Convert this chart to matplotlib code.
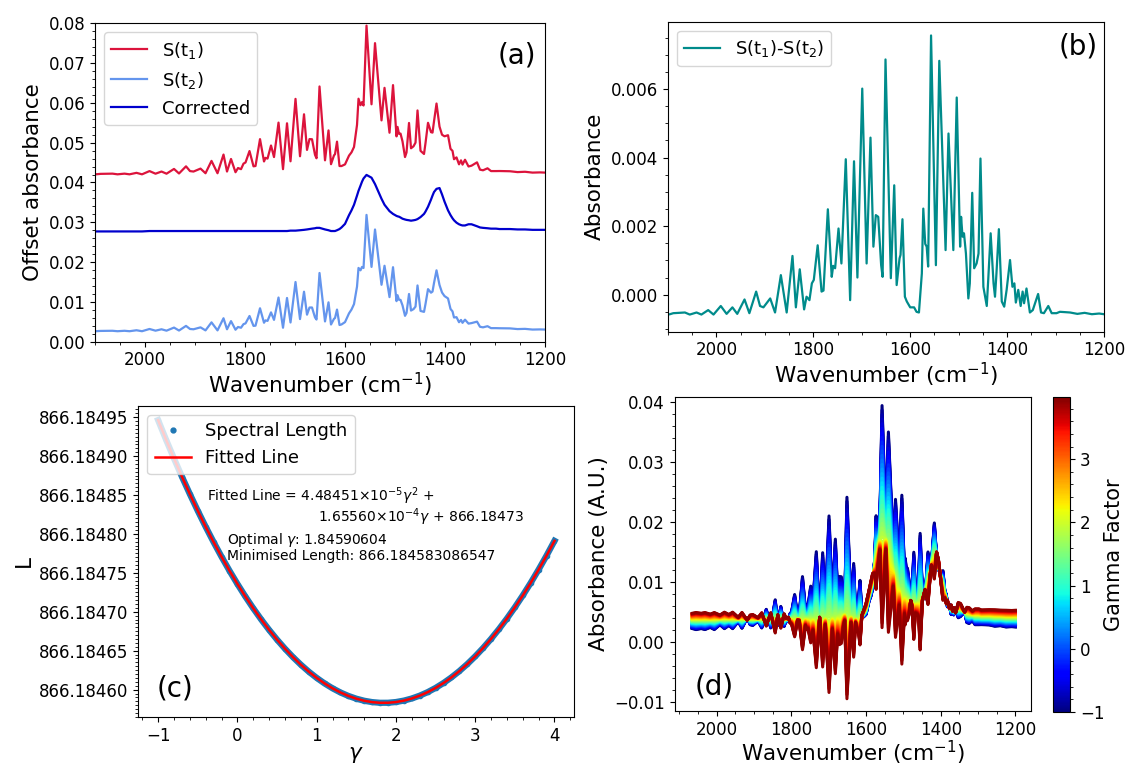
import matplotlib
matplotlib.use('Agg')
import matplotlib.pyplot as plt
import numpy as np
from matplotlib.ticker import MultipleLocator, AutoMinorLocator, FormatStrFormatter
from matplotlib.lines import Line2D
from matplotlib.colors import Normalize
from matplotlib.cm import ScalarMappable

# wavenumber grid (cm^-1), shared by all the spectra
wavenumber = [2100, 2096, 2089, 2065, 2055, 2041, 2031, 2017, 2006, 1991,
              1979, 1967, 1957, 1942, 1932, 1918, 1910, 1903, 1889, 1879,
              1867, 1855, 1843, 1836, 1828, 1819, 1814, 1808, 1803, 1799,
              1791, 1783, 1779, 1770, 1762, 1759, 1755, 1748, 1742, 1733,
              1724, 1716, 1709, 1699, 1690, 1682, 1676, 1671, 1666, 1660,
              1657, 1651, 1640, 1633, 1628, 1622, 1620, 1616, 1611, 1607,
              1600, 1592, 1587, 1582, 1576, 1573, 1569, 1566, 1563, 1557,
              1547, 1540, 1527, 1521, 1511, 1504, 1497, 1495, 1492, 1489,
              1485, 1480, 1477, 1472, 1468, 1463, 1459, 1455, 1449, 1442,
              1439, 1434, 1428, 1425, 1422, 1417, 1411, 1406, 1401, 1394,
              1389, 1385, 1382, 1377, 1372, 1368, 1365, 1360, 1353, 1347,
              1336, 1330, 1324, 1315, 1308, 1298, 1291, 1280, 1270, 1255,
              1240, 1225, 1210, 1200]

# S(t1)-S(t2), panel (b)
diff = [-0.00058, -0.00057, -0.00054, -0.00052, -0.00058, -0.00052, -0.00058, -0.00045, -0.00058, -0.00033,
        -0.00056, -0.00037, -0.00056, -0.00014, -0.00054, 0.00009, -0.00033, -0.00037, -0.00011, -0.00052,
        0.00057, -0.00052, 0.00113, -0.00037, 0.00074, -0.00043, -0.00006, -0.00016, 0.00033, 0.00043,
        0.00144, 0.00009, 0.00012, 0.00249, 0.00052, 0.00084, 0.00077, 0.00193, 0.00091, 0.00395,
        -0.00016, 0.00389, 0.00050, 0.00601, 0.00091, 0.00458, 0.00140, 0.00232, 0.00227, 0.00086,
        0.00052, 0.00686, 0.00048, 0.00319, 0.00028, 0.00106, 0.00116, 0.00220, -0.00006, -0.00020,
        -0.00037, -0.00037, -0.00050, -0.00052, 0.00062, 0.00251, 0.00148, 0.00140, 0.00082, 0.00756,
        0.00086, 0.00682, 0.00130, 0.00470, 0.00130, 0.00575, 0.00140, 0.00227, 0.00169, 0.00179,
        0.00120, -0.00011, 0.00033, 0.00297, 0.00077, 0.00091, 0.00120, 0.00397, 0.00023, -0.00033,
        0.00043, 0.00179, 0.00033, -0.00006, 0.00062, 0.00191, -0.00020, -0.00035, 0.00014, 0.00101,
        0.00023, 0.00033, -0.00023, 0.00014, -0.00033, 0.00009, -0.00025, 0.00018, -0.00052, -0.00045,
        0.00002, -0.00052, -0.00054, -0.00033, -0.00054, -0.00054, -0.00050, -0.00051, -0.00052, -0.00056,
        -0.00053, -0.00057, -0.00055, -0.00057]

# corrected spectrum (no offset), panels (a) and (d)
corrected = [0.0037, 0.0037, 0.0037, 0.0037, 0.0037, 0.0037, 0.0037, 0.0037, 0.0037, 0.0038,
             0.0038, 0.0038, 0.0038, 0.0038, 0.0038, 0.0038, 0.0038, 0.0038, 0.0038, 0.0038,
             0.0038, 0.0038, 0.0038, 0.0038, 0.0038, 0.0038, 0.0038, 0.0038, 0.0038, 0.0038,
             0.0038, 0.0038, 0.0038, 0.0038, 0.0038, 0.0038, 0.0038, 0.0038, 0.0038, 0.0038,
             0.0038, 0.0038, 0.0039, 0.0039, 0.0040, 0.0041, 0.0042, 0.0043, 0.0044, 0.0045,
             0.0046, 0.0046, 0.0042, 0.0040, 0.0038, 0.0038, 0.0038, 0.0040, 0.0043, 0.0047,
             0.0056, 0.0078, 0.0090, 0.0104, 0.0127, 0.0139, 0.0152, 0.0162, 0.0170, 0.0179,
             0.0172, 0.0156, 0.0119, 0.0104, 0.0088, 0.0081, 0.0076, 0.0075, 0.0074, 0.0072,
             0.0069, 0.0067, 0.0066, 0.0065, 0.0064, 0.0065, 0.0066, 0.0068, 0.0073, 0.0081,
             0.0087, 0.0099, 0.0117, 0.0127, 0.0136, 0.0144, 0.0146, 0.0130, 0.0112, 0.0090,
             0.0078, 0.0070, 0.0065, 0.0059, 0.0055, 0.0053, 0.0052, 0.0052, 0.0055, 0.0055,
             0.0050, 0.0047, 0.0046, 0.0045, 0.0044, 0.0044, 0.0043, 0.0043, 0.0043, 0.0042,
             0.0042, 0.0041, 0.0041, 0.0041]

gamma_opt = 1.84590604
offset_t1 = 0.040      # vertical offsets used in panel (a)
offset_corr = 0.024

# panel (c): gamma sweep and spectral length (866.1845 + value*1e-5)
gamma = np.round(np.arange(-1.0, 4.05, 0.1), 1)
length_1e5 = [44.620, 42.113, 39.696, 37.367, 35.128, 32.979, 30.920, 28.950, 27.071, 25.281,
              23.580, 21.970, 20.448, 19.017, 17.675, 16.423, 15.261, 14.188, 13.206, 12.312,
              11.509, 10.795, 10.171, 9.636, 9.192, 8.837, 8.571, 8.395, 8.309, 8.313,
              8.406, 8.590, 8.862, 9.225, 9.677, 10.219, 10.850, 11.571, 12.382, 13.283,
              14.273, 15.353, 16.523, 17.782, 19.131, 20.570, 22.098, 23.716, 25.424, 27.221,
              29.109]

plt.rcParams['font.size'] = 12

wn = np.array(wavenumber, dtype=float)
D = np.array(diff)
C = np.array(corrected)
s_t2 = C + gamma_opt * D
s_t1 = s_t2 + D

fig = plt.figure(figsize=(11.27, 7.68), dpi=100)
ax_a = fig.add_axes([0.0843, 0.5551, 0.3993, 0.4146])
ax_b = fig.add_axes([0.5927, 0.5681, 0.3869, 0.4036])
ax_c = fig.add_axes([0.1227, 0.0665, 0.3869, 0.4049])
ax_d = fig.add_axes([0.5987, 0.0737, 0.3162, 0.4098])
cax = fig.add_axes([0.9341, 0.0730, 0.0154, 0.4105])

# (a) raw and corrected spectra
ax_a.plot(wn, s_t1 + offset_t1, color='crimson', lw=1.6, label='S(t$_1$)')
ax_a.plot(wn, s_t2, color='cornflowerblue', lw=1.6, label='S(t$_2$)')
ax_a.plot(wn, C + offset_corr, color='mediumblue', lw=1.6, label='Corrected')
ax_a.set_xlim(2100, 1200)
ax_a.set_ylim(0, 0.08)
ax_a.xaxis.set_major_locator(MultipleLocator(200))
ax_a.xaxis.set_minor_locator(MultipleLocator(50))
ax_a.yaxis.set_major_locator(MultipleLocator(0.01))
ax_a.yaxis.set_minor_locator(AutoMinorLocator(5))
ax_a.set_xlabel('Wavenumber (cm$^{-1}$)', fontsize=15.5, labelpad=1)
ax_a.set_ylabel('Offset absorbance', fontsize=15.5)
ax_a.legend(loc='upper left', fontsize=13)
ax_a.text(0.895, 0.9, '(a)', transform=ax_a.transAxes, fontsize=20, va='center')

# (b) difference spectrum
ax_b.plot(wn, D, color='darkcyan', lw=1.6, label='S(t$_1$)-S(t$_2$)')
ax_b.set_xlim(2100, 1200)
ax_b.set_ylim(-0.00108, 0.00796)
ax_b.xaxis.set_major_locator(MultipleLocator(200))
ax_b.xaxis.set_minor_locator(MultipleLocator(50))
ax_b.yaxis.set_major_locator(MultipleLocator(0.002))
ax_b.yaxis.set_minor_locator(AutoMinorLocator(4))
ax_b.set_xlabel('Wavenumber (cm$^{-1}$)', fontsize=15.5, labelpad=1)
ax_b.set_ylabel('Absorbance', fontsize=15.5)
ax_b.legend(loc='upper left', fontsize=13)
ax_b.text(0.897, 0.919, '(b)', transform=ax_b.transAxes, fontsize=20, va='center')

# (c) spectral length vs gamma
L = 866.1845 + np.array(length_1e5) * 1e-5
coef = np.polyfit(gamma, L, 2)
ax_c.plot(gamma, L, color='tab:blue', lw=4.5, marker='o', ms=3)
ax_c.plot(gamma, np.polyval(coef, gamma), color='red', lw=1.8)
handles = [Line2D([], [], ls='none', marker='o', ms=3.5, color='tab:blue'),
           Line2D([], [], color='red', lw=1.8)]
ax_c.legend(handles, ['Spectral Length', 'Fitted Line'], loc='upper left', fontsize=13)
ax_c.xaxis.set_major_locator(MultipleLocator(1))
ax_c.xaxis.set_minor_locator(AutoMinorLocator(5))
ax_c.yaxis.set_major_locator(MultipleLocator(0.00005))
ax_c.yaxis.set_minor_locator(AutoMinorLocator(10))
ax_c.yaxis.set_major_formatter(FormatStrFormatter('%.5f'))
ax_c.set_xlabel(r'$\gamma$', fontsize=15.5, labelpad=0)
ax_c.set_ylabel('L', fontsize=15.5)
ax_c.text(0.157, 0.694, r'Fitted Line = 4.48451×10$^{-5}\gamma^2$ +',
          transform=ax_c.transAxes, fontsize=10, va='baseline')
ax_c.text(0.885, 0.626, r'1.65560×10$^{-4}\gamma$ + 866.18473',
          transform=ax_c.transAxes, fontsize=10, va='baseline', ha='right')
ax_c.text(0.203, 0.555, r'Optimal $\gamma$: 1.84590604',
          transform=ax_c.transAxes, fontsize=10, va='baseline')
ax_c.text(0.203, 0.506, 'Minimised Length: 866.184583086547',
          transform=ax_c.transAxes, fontsize=10, va='baseline')
ax_c.text(0.042, 0.09, '(c)', transform=ax_c.transAxes, fontsize=20, va='center')

# (d) corrected spectra for a sweep of gamma
norm = Normalize(vmin=-1, vmax=3.99)
cmap = plt.get_cmap('jet')
m = wn <= 2070
for g in gamma[gamma < 3.95]:
    ax_d.plot(wn[m], s_t2[m] - g * D[m], color=cmap(norm(g)), lw=2.2)
ax_d.set_xlim(2112, 1158)
ax_d.set_ylim(-0.0116, 0.0409)
ax_d.xaxis.set_major_locator(MultipleLocator(200))
ax_d.xaxis.set_minor_locator(MultipleLocator(50))
ax_d.yaxis.set_major_locator(MultipleLocator(0.01))
ax_d.yaxis.set_minor_locator(AutoMinorLocator(5))
ax_d.set_xlabel('Wavenumber (cm$^{-1}$)', fontsize=15.5, labelpad=0)
ax_d.set_ylabel('Absorbance (A.U.)', fontsize=15.5)
ax_d.text(0.056, 0.078, '(d)', transform=ax_d.transAxes, fontsize=20, va='center')

cb = fig.colorbar(ScalarMappable(norm=norm, cmap=cmap), cax=cax)
cb.set_ticks([-1, 0, 1, 2, 3])
cb.ax.yaxis.set_minor_locator(AutoMinorLocator(5))
cb.set_label('Gamma Factor', fontsize=15, labelpad=0)

fig.savefig('out.png', dpi=100)
